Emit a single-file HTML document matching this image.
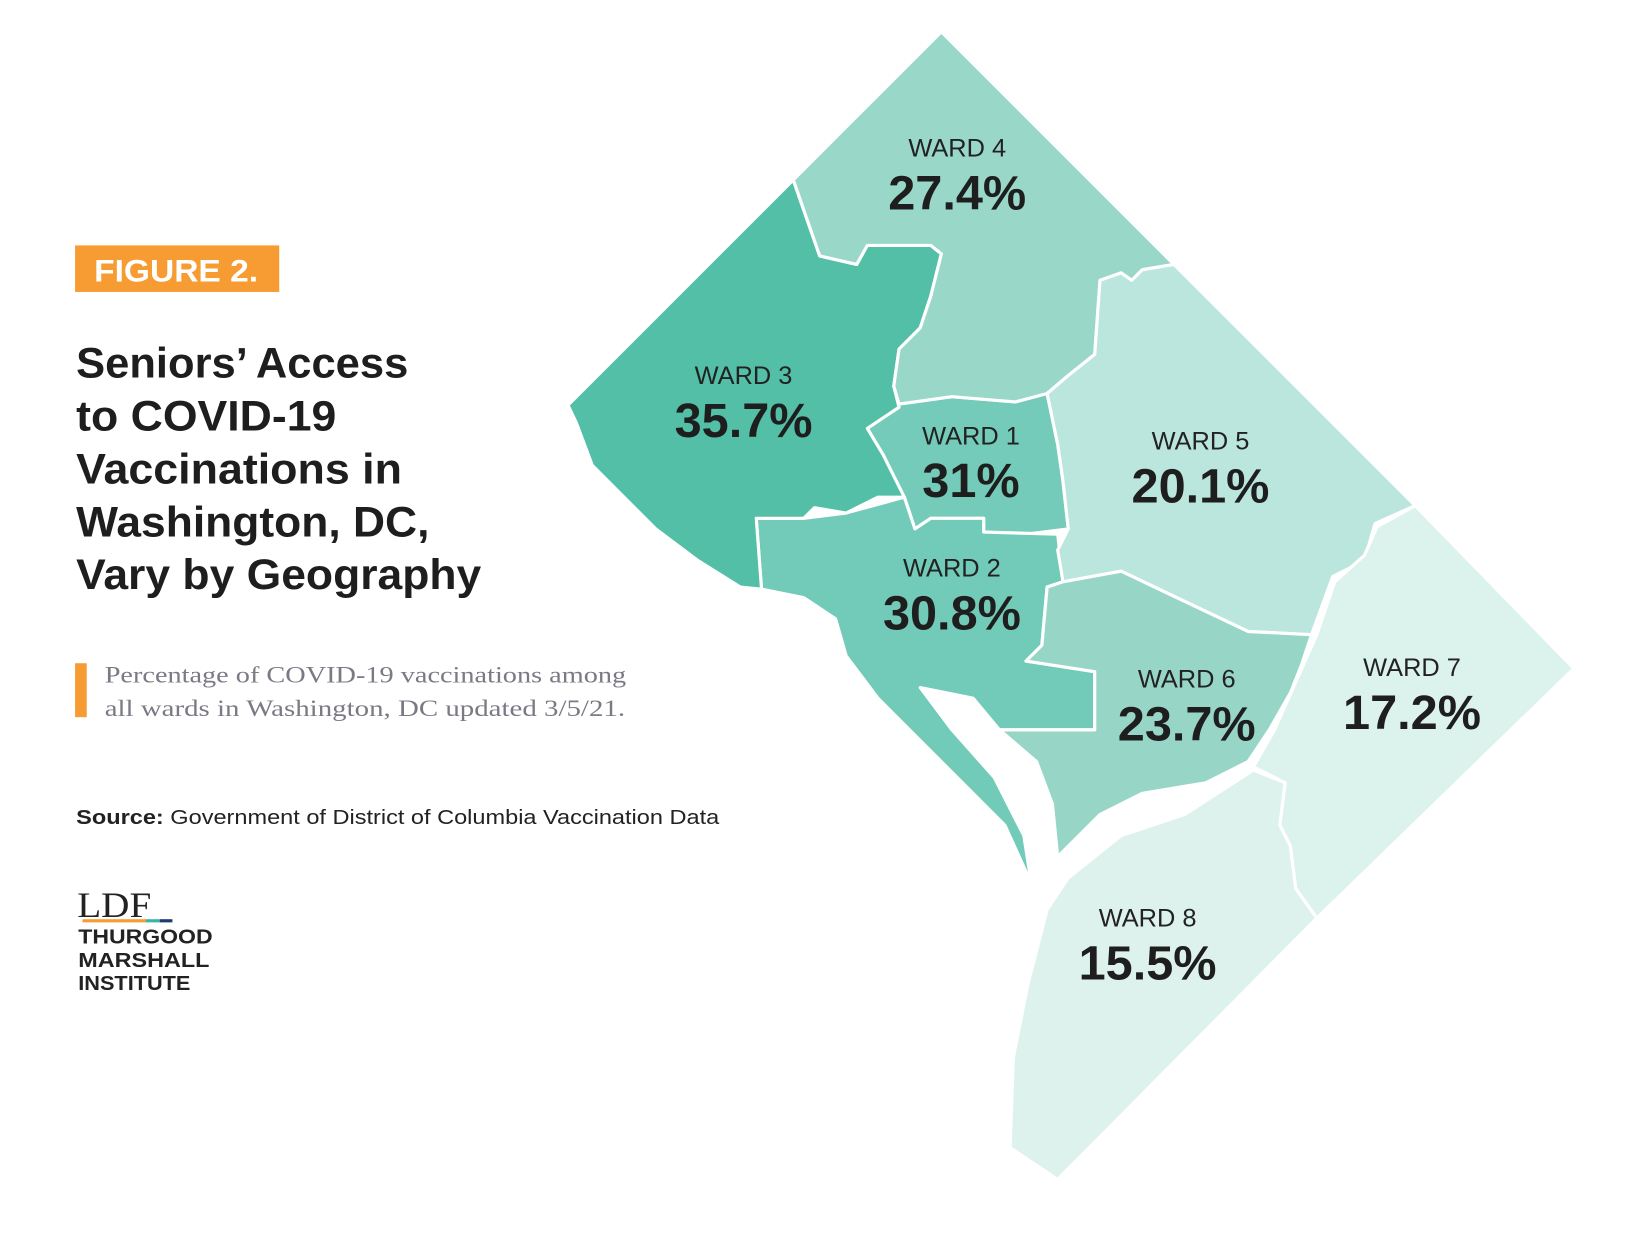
<!DOCTYPE html>
<html><head><meta charset="utf-8">
<style>
html,body{margin:0;padding:0;background:#fff;}
svg{display:block;}
text{font-family:"Liberation Sans",sans-serif;}
text.serif{font-family:"Liberation Serif",serif;}
</style></head>
<body>
<svg id="chart" width="1650" height="1245" viewBox="0 0 1560 1177" preserveAspectRatio="none" xmlns="http://www.w3.org/2000/svg">
  <rect x="71" y="232" width="193" height="44" fill="#f79b33"/>
  <text x="89" y="266" font-size="30" font-weight="bold" fill="#fff" textLength="155" lengthAdjust="spacingAndGlyphs">FIGURE 2.</text>
  <g font-size="40" font-weight="bold" fill="#1e1e1e">
    <text x="72" y="357" textLength="314" lengthAdjust="spacingAndGlyphs">Seniors’ Access</text>
    <text x="72" y="407" textLength="246" lengthAdjust="spacingAndGlyphs">to COVID-19</text>
    <text x="72" y="457" textLength="308" lengthAdjust="spacingAndGlyphs">Vaccinations in</text>
    <text x="72" y="507" textLength="334" lengthAdjust="spacingAndGlyphs">Washington, DC,</text>
    <text x="72" y="557" textLength="383" lengthAdjust="spacingAndGlyphs">Vary by Geography</text>
  </g>
  <rect x="71" y="627" width="11" height="51" fill="#f79b33"/>
  <g font-size="22" fill="#7a7a85">
    <text class="serif" x="99" y="645" textLength="493" lengthAdjust="spacingAndGlyphs">Percentage of COVID-19 vaccinations among</text>
    <text class="serif" x="99" y="677" textLength="492" lengthAdjust="spacingAndGlyphs">all wards in Washington, DC updated 3/5/21.</text>
  </g>
  <text x="72" y="779" font-size="19" fill="#222" textLength="608" lengthAdjust="spacingAndGlyphs"><tspan font-weight="bold">Source:</tspan> Government of District of Columbia Vaccination Data</text>
  <g>
    <text class="serif" x="73" y="867" font-size="34" fill="#222" textLength="70" lengthAdjust="spacingAndGlyphs">LDF</text>
    <rect x="78" y="869" width="60" height="3" fill="#f79b33"/>
    <rect x="138" y="869" width="13" height="3" fill="#3bb3a8"/>
    <rect x="151" y="869" width="12" height="3" fill="#1f3a6e"/>
    <text x="74" y="892" font-size="19" font-weight="bold" fill="#222" textLength="127" lengthAdjust="spacingAndGlyphs">THURGOOD</text>
    <text x="74" y="914" font-size="19" font-weight="bold" fill="#222" textLength="124" lengthAdjust="spacingAndGlyphs">MARSHALL</text>
    <text x="74" y="936" font-size="19" font-weight="bold" fill="#222" textLength="106" lengthAdjust="spacingAndGlyphs">INSTITUTE</text>
  </g>
  <g id="wards" stroke="#fff" stroke-width="3" stroke-linejoin="round"></g>
  <g id="labels"></g>
</svg>
<script>
const wardNames = ["WARD 1","WARD 2","WARD 3","WARD 4","WARD 5","WARD 6","WARD 7","WARD 8"];
const wardValues = [31, 30.8, 35.7, 27.4, 20.1, 23.7, 17.2, 15.5];
const valueLabels = ["31%","30.8%","35.7%","27.4%","20.1%","23.7%","17.2%","15.5%"];

const shapes = [
 "850,382 900,375 960,380 990,372 1000,420 1005,455 1010,500 970,505 930,503 930,490 880,490 865,500 855,470 835,430 820,405",
 "720,557 715,490 760,490 800,485 855,470 865,500 880,490 930,490 930,503 1000,505 1005,550 990,555 985,610 970,625 1035,635 1035,690 945,690 920,660 870,650 900,690 940,735 968,790 975,835 950,780 890,720 830,660 800,620 790,585 760,565",
 "750,170 537,383 545,400 560,440 600,480 620,500 660,530 700,555 720,557 715,490 760,490 770,480 800,485 830,470 855,470 835,430 820,405 850,385 845,365 850,330 870,310 880,280 890,240 880,232 820,232 810,250 775,242",
 "890,30 1110,250 1080,255 1070,265 1060,258 1040,265 1035,335 1010,355 990,372 960,380 900,375 850,382 845,365 850,330 870,310 880,280 890,240 880,232 820,232 810,250 775,242 750,170",
 "1110,250 1338,478 1300,495 1290,530 1260,545 1240,600 1180,597 1060,540 1005,550 1000,520 1010,500 1005,455 1000,420 990,372 1010,355 1035,335 1040,265 1060,258 1070,265 1080,255",
 "1005,550 1060,540 1180,597 1240,600 1230,630 1220,655 1200,690 1180,720 1140,740 1080,750 1040,770 1000,810 995,760 980,720 945,690 1035,690 1035,635 970,625 985,610 990,555",
 "1338,478 1488,632 1245,868 1225,840 1220,800 1210,780 1215,740 1185,725 1205,690 1225,645 1245,600 1262,550 1290,525 1302,498",
 "1245,868 1000,1115 955,1085 958,1000 972,930 990,860 1010,830 1060,790 1120,770 1185,728 1215,740 1210,780 1220,800 1225,840"
];
const colors = ["#75cbb9","#72cab8","#52bfa6","#99d8c9","#bbe6dd","#97d6c6","#dcf2ec","#ddf2ec"];
const labelPos = [[918,410],[900,535],[703,353],[905,138],[1135,415],[1122,640],[1335,629],[1085,866]];

const NS = "http://www.w3.org/2000/svg";
const g = document.getElementById('wards');
const lg = document.getElementById('labels');
shapes.forEach((pts,i)=>{
  const p = document.createElementNS(NS,'polygon');
  p.setAttribute('points',pts);
  p.setAttribute('fill',colors[i]);
  
  
  g.appendChild(p);
});
wardNames.forEach((n,i)=>{
  const [x,y] = labelPos[i];
  const t1 = document.createElementNS(NS,'text');
  t1.setAttribute('x',x); t1.setAttribute('y',y+10);
  t1.setAttribute('text-anchor','middle'); t1.setAttribute('font-size','24');
  t1.setAttribute('fill','#222');
  t1.textContent = n;
  
  
  lg.appendChild(t1);
  const t2 = document.createElementNS(NS,'text');
  t2.setAttribute('x',x); t2.setAttribute('y',y+60);
  t2.setAttribute('text-anchor','middle'); t2.setAttribute('font-size','46');
  t2.setAttribute('font-weight','bold'); t2.setAttribute('fill','#1e1e1e');
  t2.textContent = valueLabels[i] || (wardValues[i]+'%');
  
  
  lg.appendChild(t2);
});
</script>
</body></html>
